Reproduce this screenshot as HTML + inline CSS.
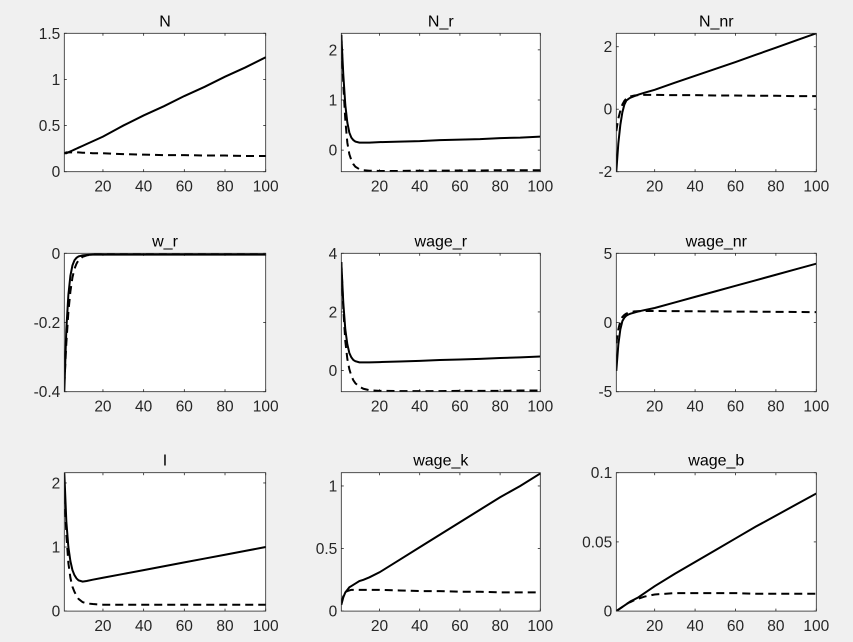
<!DOCTYPE html>
<html><head><meta charset="utf-8"><style>
html,body{margin:0;padding:0;background:#f0f0f0;}
svg{display:block;font-family:"Liberation Sans",Arial,sans-serif;}
</style></head><body>
<svg id="fig" width="853" height="642" viewBox="0 0 853 642"></svg>
<script>
const periods = [1,2,3,4,5,6,7,8,10,12,15,20,30,40,50,60,70,80,90,100];
const titles = ["N","N_r","N_nr","w_r","wage_r","wage_nr","I","wage_k","wage_b"];
const yMins = [0,-0.43,-2,-0.4,-0.72,-5,0,0,0];
const yMaxs = [1.5,2.33,2.43,0,4,5,2.16,1.106,0.1];
const yTicks = [[0,0.5,1,1.5],[0,1,2],[-2,0,2],[-0.4,-0.2,0],[0,2,4],[-5,0,5],[0,1,2],[0,0.5,1],[0,0.05,0.1]];
const yTickLabels = [["0","0.5","1","1.5"],["0","1","2"],["-2","0","2"],["-0.4","-0.2","0"],["0","2","4"],["-5","0","5"],["0","1","2"],["0","0.5","1"],["0","0.05","0.1"]];
const xTicks = [20,40,60,80,100];
const xTickLabels = ["20","40","60","80","100"];
const solidN      = [0.2,0.2,0.21,0.22,0.23,0.24,0.25,0.26,0.28,0.3,0.33,0.38,0.5,0.61,0.71,0.82,0.92,1.03,1.13,1.24];
const dashedN     = [0.2,0.21,0.21,0.21,0.21,0.21,0.21,0.21,0.205,0.205,0.2,0.2,0.19,0.185,0.18,0.18,0.175,0.175,0.17,0.17];
const solidNr     = [2.3,1.5,0.9,0.55,0.35,0.25,0.2,0.17,0.15,0.15,0.15,0.16,0.17,0.18,0.2,0.21,0.22,0.24,0.25,0.27];
const dashedNr    = [2.3,1.3,0.6,0.15,-0.08,-0.2,-0.28,-0.33,-0.38,-0.4,-0.41,-0.415,-0.415,-0.41,-0.41,-0.405,-0.405,-0.4,-0.4,-0.4];
const solidNnr    = [-2,-1.1,-0.5,-0.1,0.15,0.28,0.33,0.37,0.42,0.47,0.53,0.62,0.85,1.07,1.29,1.51,1.74,1.97,2.2,2.43];
const dashedNnr   = [-0.7,-0.3,-0.05,0.15,0.27,0.34,0.38,0.41,0.44,0.45,0.46,0.46,0.45,0.45,0.44,0.44,0.43,0.43,0.42,0.42];
const solidWr     = [-0.4,-0.22,-0.12,-0.065,-0.035,-0.02,-0.013,-0.009,-0.006,-0.005,-0.004,-0.004,-0.004,-0.004,-0.004,-0.004,-0.004,-0.004,-0.004,-0.004];
const dashedWr    = [-0.38,-0.26,-0.17,-0.11,-0.07,-0.045,-0.03,-0.02,-0.01,-0.006,-0.003,-0.002,-0.001,-0.001,-0.001,-0.001,-0.001,-0.001,-0.001,-0.001];
const solidWager  = [3.7,2.3,1.4,0.9,0.6,0.45,0.36,0.32,0.28,0.28,0.28,0.29,0.31,0.33,0.36,0.38,0.4,0.43,0.45,0.48];
const dashedWager = [3.7,2.1,1.0,0.4,0.05,-0.18,-0.33,-0.43,-0.55,-0.62,-0.67,-0.69,-0.7,-0.7,-0.7,-0.69,-0.69,-0.69,-0.68,-0.68];
const solidWagenr = [-3.5,-1.6,-0.5,0.1,0.35,0.5,0.58,0.64,0.72,0.8,0.9,1.05,1.45,1.85,2.25,2.65,3.05,3.45,3.85,4.25];
const dashedWagenr= [-1.5,-0.5,0.1,0.4,0.55,0.65,0.7,0.75,0.8,0.82,0.83,0.83,0.82,0.81,0.8,0.79,0.78,0.77,0.76,0.75];
const solidI      = [2.16,1.4,1.0,0.78,0.64,0.56,0.51,0.48,0.46,0.47,0.49,0.52,0.58,0.64,0.7,0.76,0.82,0.88,0.94,1.0];
const dashedI     = [2.0,1.2,0.75,0.52,0.38,0.3,0.24,0.19,0.14,0.12,0.11,0.1,0.1,0.1,0.1,0.1,0.1,0.1,0.1,0.1];
const solidWagek  = [0.05,0.11,0.15,0.17,0.19,0.2,0.21,0.22,0.24,0.25,0.27,0.31,0.41,0.51,0.61,0.71,0.81,0.91,1.0,1.1];
const dashedWagek = [0.06,0.12,0.15,0.16,0.165,0.17,0.17,0.17,0.17,0.17,0.17,0.17,0.165,0.16,0.16,0.155,0.155,0.15,0.15,0.15];
const solidWageb  = [0,0.001,0.002,0.003,0.004,0.005,0.006,0.007,0.0085,0.01,0.013,0.018,0.027,0.0355,0.044,0.0525,0.061,0.069,0.077,0.085];
const dashedWageb = [0,0.001,0.002,0.003,0.004,0.005,0.006,0.0065,0.008,0.009,0.0105,0.012,0.013,0.013,0.013,0.013,0.0125,0.0125,0.0125,0.0125];
const solids = [solidN,solidNr,solidNnr,solidWr,solidWager,solidWagenr,solidI,solidWagek,solidWageb];
const dashes = [dashedN,dashedNr,dashedNnr,dashedWr,dashedWager,dashedWagenr,dashedI,dashedWagek,dashedWageb];

const colL=[64.3,341.3,616.3], colW=[201.4,199,200];
const rowT=[33.3,253.3,472.7], rowH=138.4;
const NS="http://www.w3.org/2000/svg";
const fig=document.getElementById('fig');
function mk(tag,attrs,parent){const e=document.createElementNS(NS,tag);for(const k in attrs)e.setAttribute(k,attrs[k]);parent.appendChild(e);return e;}

for(let i=0;i<9;i++){
  const L=colL[i%3], W=colW[i%3], T=rowT[Math.floor(i/3)], H=rowH;
  const xs=v=>L+(v-1)/99*W;
  const ys=v=>T+H-(v-yMins[i])/(yMaxs[i]-yMins[i])*H;
  const g=mk('g',{},fig);
  
  
  const bg=mk('rect',{x:L,y:T,width:W,height:H,fill:'#fff'},g);
  
  
  const clipId='c'+i;
  const cp=mk('clipPath',{id:clipId},g); mk('rect',{x:L,y:T,width:W,height:H},cp);
  const tt=mk('text',{x:L+W/2,y:T-7,'text-anchor':'middle','font-size':16,fill:'#000'},g);
  tt.textContent=titles[i];
  
  
  xTicks.forEach((t,k)=>{
    const x=xs(t);
    mk('line',{x1:x,y1:T+H,x2:x,y2:T+H-2.5,stroke:'#262626','stroke-width':0.8},g);
    mk('line',{x1:x,y1:T,x2:x,y2:T+2.5,stroke:'#262626','stroke-width':0.8},g);
    const lb=mk('text',{x:x,y:T+H+20,'text-anchor':'middle','font-size':15.5,fill:'#262626'},g);
    lb.textContent=xTickLabels[k];
    
    
  });
  yTicks[i].forEach((t,k)=>{
    const y=ys(t);
    mk('line',{x1:L,y1:y,x2:L+2.5,y2:y,stroke:'#262626','stroke-width':0.8},g);
    mk('line',{x1:L+W,y1:y,x2:L+W-2.5,y2:y,stroke:'#262626','stroke-width':0.8},g);
    const lb=mk('text',{x:L-4,y:y+5.5,'text-anchor':'end','font-size':15.5,fill:'#262626'},g);
    lb.textContent=yTickLabels[i][k];
    
    
  });
  const pts=a=>a.map((v,k)=>xs(periods[k]).toFixed(2)+','+ys(v).toFixed(2)).join(' ');
  const d=mk('polyline',{points:pts(dashes[i]),fill:'none',stroke:'#000','stroke-width':2,'stroke-dasharray':'8,5','clip-path':'url(#'+clipId+')'},g);
  
  
  const s=mk('polyline',{points:pts(solids[i]),fill:'none',stroke:'#000','stroke-width':2,'clip-path':'url(#'+clipId+')'},g);
  
  
  const bx=mk('rect',{x:L,y:T,width:W,height:H,fill:'none',stroke:'#262626','stroke-width':0.8},g);
  
  
}
</script>
</body></html>
